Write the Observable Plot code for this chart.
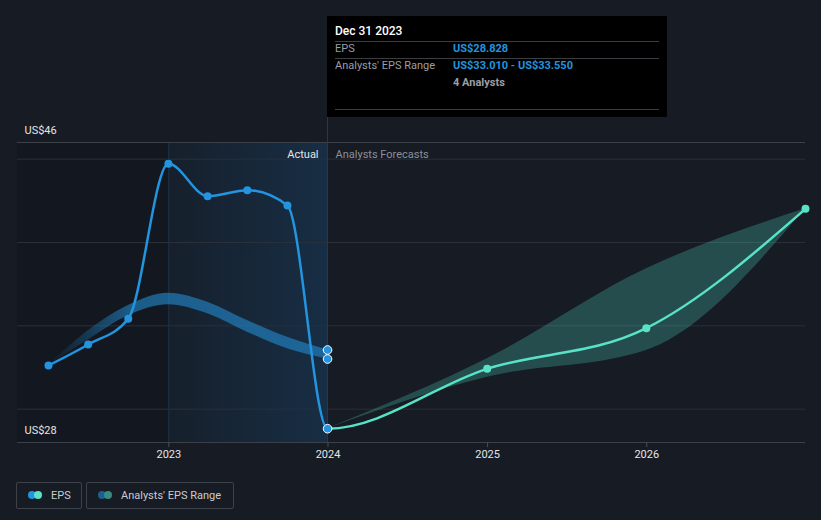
<!DOCTYPE html>
<html>
<head>
<meta charset="utf-8">
<script src="https://cdn.jsdelivr.net/npm/d3@7"></script>
<script src="https://cdn.jsdelivr.net/npm/@observablehq/plot@0.6"></script>
<style>
  html, body { margin: 0; padding: 0; background: #161b24; }
  #wrap { position: relative; width: 821px; height: 520px; overflow: hidden; background: #161b24; font-family: Roboto, "Noto Sans", sans-serif; }
  #chart { position: absolute; left: 0; top: 0; }
  #tip { position: absolute; left: 327px; top: 16px; width: 340px; height: 101px; background: #000; font-size: 11px; }
  #tip .t { position: absolute; white-space: nowrap; line-height: 14px; }
  #tip .sep { position: absolute; left: 8px; width: 324px; height: 1px; background: #3a3d42; }
  .legend { position: absolute; top: 482px; height: 25px; border: 1px solid #3c414a; border-radius: 2px; box-sizing: content-box; color: #c9ccd1; font-size: 11px; line-height: 25px; }
  .legend .dots { position: absolute; top: 8px; width: 14px; height: 8px; }
  .legend .dots span { position: absolute; top: 0; width: 8px; height: 8px; border-radius: 50%; }
</style>
</head>
<body>
<div id="wrap">
  <div id="chart"></div>
  <div id="tip"></div>
  <div class="legend" style="left:16px; width:64px;">
    <div class="dots" style="left:11px;"><span style="left:0; background:#2394df;"></span><span style="left:6px; background:#58e3c8;"></span></div>
    <span style="position:absolute; left:34px;">EPS</span>
  </div>
  <div class="legend" style="left:86px; width:146px;">
    <div class="dots" style="left:11px;"><span style="left:0; background:#1f5f8f;"></span><span style="left:6px; background:#3a8a80;"></span></div>
    <span style="position:absolute; left:34px;">Analysts' EPS Range</span>
  </div>
</div>
<script>
// ---------- data ----------
const pastDates = ["2022-03-31", "2022-06-30", "2022-09-30", "2022-12-31", "2023-03-31", "2023-06-30", "2023-09-30", "2023-12-31"];
const pastEps = [32.62, 33.88, 35.42, 44.72, 42.78, 43.14, 42.22, 28.828];
const pastRangeLow = [32.62, 34.15, 35.6, 36.26, 35.72, 34.62, 33.62, 33.01];
const pastRangeHigh = [32.62, 34.7, 36.22, 36.96, 36.42, 35.32, 34.32, 33.55];

const fcDates = ["2023-12-31", "2024-12-31", "2025-12-31", "2026-12-31"];
const fcEps = [28.828, 32.42, 34.86, 42.02];
const fcLow = [28.828, 31.92, 33.52, 42.02];
const fcHigh = [28.828, 33.02, 38.42, 42.02];

const yearTicks = ["2023-01-01", "2024-01-01", "2025-01-01", "2026-01-01"];
const yLabels = [28, 46];
const gridValues = [30, 35, 40, 45];
const xDomain = ["2022-01-19", "2026-12-31"];
const actualSpan = ["2023-01-01", "2023-12-31"];

const tipTitle = "Dec 31 2023";
const tipEps = "US$28.828";
const tipRange = "US$33.010 - US$33.550";
const tipAnalysts = "4 Analysts";

// ---------- tables ----------
const P = d => new Date(d + "T00:00:00Z");
const past = pastDates.map((d, i) => ({date: P(d), eps: pastEps[i], lo: pastRangeLow[i], hi: pastRangeHigh[i]}));
const fc = fcDates.map((d, i) => ({date: P(d), eps: fcEps[i], lo: fcLow[i], hi: fcHigh[i]}));
const lastPast = past[past.length - 1];
// one continuous EPS series (actual + forecast), drawn in two colours
const epsAll = past.concat(fc.slice(1));
const splitIndex = past.length - 1;

const chart = Plot.plot({
  width: 821,
  height: 470,
  marginTop: 142,
  marginBottom: 28,
  marginLeft: 17,
  marginRight: 16,
  x: {type: "utc", domain: xDomain.map(P)},
  y: {domain: [28, 46]},
  style: {background: "transparent", fontFamily: "Roboto, sans-serif", fontSize: "11px", color: "#e6e6e6", overflow: "visible"},
  marks: [
    Plot.rect([0], {x1: () => P(xDomain[0]), x2: () => P(actualSpan[0]), y1: 28, y2: 46, fill: "#000", fillOpacity: 0.1}),
    Plot.rect([0], {x1: () => P(actualSpan[0]), x2: () => P(actualSpan[1]), y1: 28, y2: 46, fill: "url(#actualGrad)"}),
    Plot.ruleX([P(actualSpan[0])], {y1: 28, y2: 46, stroke: "#1d3247", strokeWidth: 1}),
    Plot.ruleY(gridValues, {stroke: "#2a3039", strokeWidth: 1}),
    Plot.ruleY(yLabels, {stroke: "#3b4049", strokeWidth: 1}),
    Plot.ruleX([lastPast.date], {y1: 28, y2: 47.5, stroke: "#2a3a4c", strokeWidth: 1}),
    Plot.areaY(past, {x: "date", y1: "lo", y2: "hi", fill: "url(#pastBandGrad)", curve: "monotone-x"}),
    Plot.areaY(fc, {x: "date", y1: "lo", y2: "hi", fill: "#58e3c8", fillOpacity: 0.25, curve: "monotone-x"}),
    // same continuous curve, drawn twice and clipped at the split (first: forecast, second: actual)
    Plot.line(epsAll, {x: "date", y: "eps", stroke: "#58e3c8", strokeWidth: 2.5, curve: "monotone-x"}),
    Plot.line(epsAll, {x: "date", y: "eps", stroke: "#2394df", strokeWidth: 2.5, curve: "monotone-x"}),
    Plot.dot(past.slice(0, -1), {x: "date", y: "eps", r: 4, fill: "#2394df"}),
    Plot.dot(fc.slice(1), {x: "date", y: "eps", r: 4, fill: "#58e3c8"}),
    Plot.dot([lastPast], {x: "date", y: "lo", r: 4.3, fill: "#2394df", stroke: "#ffffff", strokeWidth: 1}),
    Plot.dot([lastPast], {x: "date", y: "hi", r: 4.3, fill: "#2394df", stroke: "#ffffff", strokeWidth: 1}),
    Plot.dot([lastPast], {x: "date", y: "eps", r: 4.3, fill: "#2394df", stroke: "#ffffff", strokeWidth: 1}),
    Plot.text(yLabels, {y: d => d, frameAnchor: "left", text: d => `US$${d}`, dx: 7, dy: -12, textAnchor: "start", fill: "#e6e6e6", fontSize: 11}),
    Plot.text(["Actual"], {x: lastPast.date, y: 46, text: d => d, dx: -9, dy: 12, textAnchor: "end", fill: "#e6e6e6", fontSize: 11}),
    Plot.text(["Analysts Forecasts"], {x: lastPast.date, y: 46, text: d => d, dx: 8, dy: 12, textAnchor: "start", fill: "#8b9099", fontSize: 11}),
    Plot.axisX({ticks: yearTicks.map(P), tickFormat: d3.utcFormat("%Y"), tickSize: 5, tickPadding: 3, stroke: "#4a4f58", fill: "#e6e6e6", fontSize: 11}),
    Plot.axisY({ticks: []})
  ]
});

const svg = d3.select(chart);
const defs = svg.insert("defs", ":first-child");
const g1 = defs.append("linearGradient").attr("id", "actualGrad").attr("x1", "0").attr("x2", "1").attr("y1", "0").attr("y2", "0");
g1.append("stop").attr("offset", "0").attr("stop-color", "#1a5a90").attr("stop-opacity", 0.07);
g1.append("stop").attr("offset", "1").attr("stop-color", "#1a5a90").attr("stop-opacity", 0.3);
const g2 = defs.append("linearGradient").attr("id", "pastBandGrad").attr("x1", "0").attr("x2", "1").attr("y1", "0").attr("y2", "0");
g2.append("stop").attr("offset", "0").attr("stop-color", "#2394df").attr("stop-opacity", 0.0);
g2.append("stop").attr("offset", "0.3").attr("stop-color", "#2394df").attr("stop-opacity", 0.55);
g2.append("stop").attr("offset", "1").attr("stop-color", "#2394df").attr("stop-opacity", 0.55);

const xs = chart.scale("x");
const xScale = d3.scaleUtc(xs.domain, xs.range);
const xSplit = xScale(epsAll[splitIndex].date);
defs.append("clipPath").attr("id", "clipActual").append("rect").attr("x", 0).attr("y", 0).attr("width", xSplit).attr("height", 470);
defs.append("clipPath").attr("id", "clipForecast").append("rect").attr("x", xSplit).attr("y", 0).attr("width", 821 - xSplit).attr("height", 470);
const lineGroups = chart.querySelectorAll('g[aria-label="line"]');
if (lineGroups.length >= 2) {
  lineGroups[0].setAttribute("clip-path", "url(#clipForecast)");
  lineGroups[1].setAttribute("clip-path", "url(#clipActual)");
}
document.getElementById("chart").appendChild(chart);

const tip = document.getElementById("tip");
const rows = [
  {text: tipTitle, x: 8, y: 8, color: "#ffffff", size: 12, weight: 500},
  {text: "EPS", x: 8, y: 26, color: "#9a9ea5", size: 11, weight: 400},
  {text: tipEps, x: 126, y: 26, color: "#2394df", size: 11, weight: 700},
  {text: "Analysts' EPS Range", x: 8, y: 43, color: "#9a9ea5", size: 11, weight: 400},
  {text: tipRange, x: 126, y: 43, color: "#2394df", size: 11, weight: 700},
  {text: tipAnalysts, x: 126, y: 60, color: "#9a9ea5", size: 11, weight: 700}
];
rows.forEach(r => {
  const el = document.createElement("div");
  el.className = "t";
  el.textContent = r.text;
  Object.assign(el.style, {left: r.x + "px", top: r.y + "px", color: r.color, fontSize: r.size + "px", fontWeight: r.weight});
  tip.appendChild(el);
});
[25, 42, 93].forEach(y => {
  const s = document.createElement("div");
  s.className = "sep";
  s.style.top = y + "px";
  tip.appendChild(s);
});
</script>
</body>
</html>
